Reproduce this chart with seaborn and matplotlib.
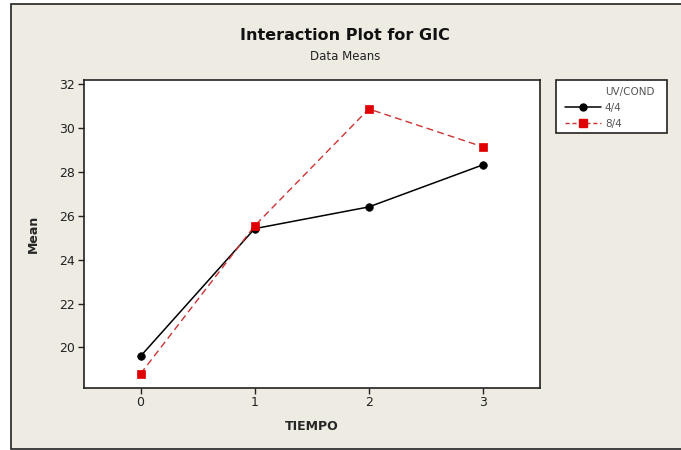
import matplotlib
matplotlib.use("Agg")
import matplotlib.pyplot as plt
from matplotlib.patches import Rectangle
from matplotlib.lines import Line2D
import seaborn as sns
import pandas as pd

# Interaction means of GIC by TIEMPO and UV/COND
tiempo = [0, 1, 2, 3]
groups = ["4/4", "8/4"]
mean_44 = [19.6, 25.42, 26.41, 28.33]
mean_84 = [18.8, 25.55, 30.88, 29.15]

df = pd.DataFrame({
    "TIEMPO": tiempo * 2,
    "Mean": mean_44 + mean_84,
    "UV/COND": [groups[0]] * 4 + [groups[1]] * 4,
})

sns.set_style("white")
plt.rcParams["font.family"] = ["DejaVu Sans"]

bg = "#EEEBE3"
W, H = 681, 450
fig = plt.figure(figsize=(6.81, 4.5), dpi=100)
fig.patch.set_facecolor("white")

# Panel background with frame, behind everything else
fig.patches.append(Rectangle((11 / W, 1 - 449 / H), (681 - 11) / W + 0.01, (449 - 4) / H,
                             transform=fig.transFigure, facecolor=bg,
                             edgecolor="#222222", linewidth=1.2, zorder=-10))

ax = fig.add_axes([83.5 / W, 1 - 388 / H, (540 - 83.5) / W, (388 - 80) / H])
ax.set_facecolor("white")

palette = {"4/4": "black", "8/4": "#E00000"}
line_colors = {"4/4": "black", "8/4": "#CC3333"}
markers = {"4/4": "o", "8/4": "s"}

for g in groups:
    sub = df[df["UV/COND"] == g]
    sns.lineplot(data=sub, x="TIEMPO", y="Mean", ax=ax, color=line_colors[g],
                 linewidth=1.1 if g == "4/4" else 1.0,
                 linestyle="-" if g == "4/4" else (0, (5, 3)),
                 legend=False, zorder=2)
    sns.scatterplot(data=sub, x="TIEMPO", y="Mean", ax=ax, color=palette[g],
                    marker=markers[g], s=30 if g == "4/4" else 38,
                    edgecolor=palette[g], linewidth=0.5, legend=False, zorder=3)

ax.set_xlim(-0.5, 3.5)
ax.set_ylim(18.15, 32.2)
ax.set_xticks(tiempo)
ax.set_xticklabels([str(t) for t in tiempo])
ax.set_yticks([20, 22, 24, 26, 28, 30, 32])
ax.tick_params(axis="both", direction="out", length=4, width=1, colors="#222222",
               labelsize=9, labelcolor="#222222", pad=2)
ax.tick_params(axis="x", bottom=True)
ax.tick_params(axis="y", left=True)
for s in ax.spines.values():
    s.set_color("#222222")
    s.set_linewidth(1.2)

ax.set_xlabel("TIEMPO", fontsize=9, fontweight="bold", labelpad=8)
ax.set_ylabel("Mean", fontsize=9, fontweight="bold", labelpad=14)

fig.text(345 / W, 1 - 36 / H, "Interaction Plot for GIC", ha="center", va="center",
         fontsize=11.5, fontweight="bold", color="#111111")
fig.text(345 / W, 1 - 57 / H, "Data Means", ha="center", va="center",
         fontsize=8.5, color="#222222")

# Legend box
fig.patches.append(Rectangle((556 / W, 1 - 133 / H), (667 - 556) / W, (133 - 80) / H,
                             transform=fig.transFigure, facecolor="white",
                             edgecolor="#222222", linewidth=1.2, zorder=1))
handles = [
    Line2D([], [], linestyle="none", label="UV/COND"),
    Line2D([], [], color="black", marker="o", markersize=5, linewidth=1.1, label="4/4"),
    Line2D([], [], color=line_colors["8/4"], marker="s", markersize=5.5,
           markerfacecolor=palette["8/4"], markeredgecolor=palette["8/4"],
           linewidth=1.0, linestyle=(0, (3, 2)), label="8/4"),
]
leg = fig.legend(handles=handles, loc="upper left",
                 bbox_to_anchor=(558 / W, 1 - 80 / H), fontsize=7.5,
                 frameon=False, handlelength=3.4, borderpad=0.2,
                 labelspacing=0.55, handletextpad=0.4)
leg.set_zorder(5)
for t in leg.get_texts():
    t.set_color("#555555")

fig.savefig("out.png", dpi=100, facecolor=fig.get_facecolor())
